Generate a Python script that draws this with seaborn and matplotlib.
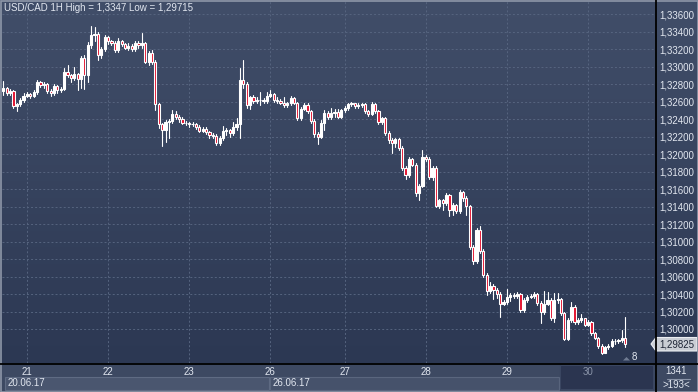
import numpy as np
import pandas as pd
import matplotlib
matplotlib.use("Agg")
import matplotlib.pyplot as plt
import seaborn as sns
from matplotlib.patches import Rectangle, Polygon

# ---------------- data ----------------
first_open = 1.3272
closes = [
    1.3276, 1.3270, 1.3272, 1.3255, 1.3257, 1.3262, 1.3267, 1.3269, 1.3266, 1.3271,
    1.3283, 1.3279, 1.3280, 1.3272, 1.3270, 1.3278, 1.3273, 1.3275, 1.3294, 1.3290,
    1.3287, 1.3292, 1.3286, 1.3310, 1.3290, 1.3325, 1.3336, 1.3338, 1.3313, 1.3320,
    1.3334, 1.3329, 1.3327, 1.3319, 1.3329, 1.3326, 1.3322, 1.3324, 1.3320, 1.3327,
    1.3325, 1.3327, 1.3306, 1.3316, 1.3305, 1.3257, 1.3234, 1.3228, 1.3237, 1.3238,
    1.3246, 1.3242, 1.3240, 1.3236, 1.3236, 1.3234, 1.3234, 1.3231, 1.3227, 1.3229,
    1.3225, 1.3222, 1.3221, 1.3213, 1.3218, 1.3226, 1.3228, 1.3224, 1.3231, 1.3235,
    1.3285, 1.3280, 1.3256, 1.3265, 1.3261, 1.3262, 1.3262, 1.3261, 1.3267, 1.3269,
    1.3262, 1.3261, 1.3259, 1.3256, 1.3258, 1.3264, 1.3259, 1.3241, 1.3252, 1.3256,
    1.3249, 1.3238, 1.3223, 1.3220, 1.3236, 1.3247, 1.3242, 1.3247, 1.3248, 1.3243,
    1.3250, 1.3253, 1.3257, 1.3258, 1.3255, 1.3256, 1.3257, 1.3249, 1.3246, 1.3257,
    1.3249, 1.3237, 1.3241, 1.3224, 1.3216, 1.3213, 1.3217, 1.3207, 1.3184, 1.3176,
    1.3194, 1.3188, 1.3155, 1.3164, 1.3197, 1.3195, 1.3174, 1.3184, 1.3141, 1.3147,
    1.3144, 1.3153, 1.3136, 1.3142, 1.3135, 1.3157, 1.3150, 1.3141, 1.3094, 1.3078,
    1.3113, 1.3089, 1.3062, 1.3043, 1.3049, 1.3045, 1.3040, 1.3029, 1.3031, 1.3037,
    1.3039, 1.3038, 1.3040, 1.3022, 1.3033, 1.3037, 1.3038, 1.3040, 1.3030, 1.3019,
    1.3029, 1.3033, 1.3012, 1.3033, 1.3034, 1.3018, 1.2989, 1.3010, 1.3025, 1.3008,
    1.3010, 1.3012, 1.3005, 1.3008, 1.2995, 1.2990, 1.2981, 1.29725, 1.2979, 1.2981,
    1.2986, 1.2986, 1.2987, 1.2990, 1.29825,
]
highs = [
    1.3284, 1.3277, 1.3274, 1.3273, 1.3259, 1.3264, 1.3270, 1.3271, 1.3270, 1.3273,
    1.3285, 1.3284, 1.3282, 1.3281, 1.3275, 1.3280, 1.3279, 1.3277, 1.3298, 1.3302,
    1.3292, 1.3300, 1.3293, 1.3312, 1.3313, 1.3328, 1.3347, 1.3346, 1.3340, 1.3323,
    1.3336, 1.3335, 1.3331, 1.3329, 1.3333, 1.3331, 1.3327, 1.3327, 1.3326, 1.3329,
    1.3330, 1.3339, 1.3328, 1.3318, 1.3319, 1.3308, 1.3259, 1.3236, 1.3239, 1.3240,
    1.3251, 1.3249, 1.3245, 1.3242, 1.3238, 1.3237, 1.3237, 1.3236, 1.3233, 1.3231,
    1.3231, 1.3227, 1.3224, 1.3223, 1.3221, 1.3232, 1.3230, 1.3229, 1.3237, 1.3241,
    1.3298, 1.3308, 1.3282, 1.3267, 1.3268, 1.3265, 1.3271, 1.3264, 1.3271, 1.3273,
    1.3270, 1.3265, 1.3263, 1.3265, 1.3260, 1.3266, 1.3265, 1.3260, 1.3254, 1.3259,
    1.3258, 1.3251, 1.3240, 1.3225, 1.3239, 1.3250, 1.3249, 1.3253, 1.3252, 1.3252,
    1.3252, 1.3255, 1.3259, 1.3260, 1.3259, 1.3258, 1.3259, 1.3258, 1.3250, 1.3260,
    1.3258, 1.3250, 1.3243, 1.3242, 1.3226, 1.3218, 1.3219, 1.3218, 1.3209, 1.3186,
    1.3197, 1.3196, 1.3190, 1.3166, 1.3205, 1.3199, 1.3197, 1.3186, 1.3186, 1.3149,
    1.3149, 1.3155, 1.3154, 1.3144, 1.3143, 1.3159, 1.3158, 1.3152, 1.3142, 1.3096,
    1.3116, 1.3118, 1.3091, 1.3064, 1.3054, 1.3051, 1.3047, 1.3042, 1.3033, 1.3046,
    1.3041, 1.3041, 1.3042, 1.3041, 1.3035, 1.3039, 1.3040, 1.3042, 1.3041, 1.3032,
    1.3043, 1.3042, 1.3035, 1.3041, 1.3041, 1.3036, 1.3020, 1.3012, 1.3031, 1.3027,
    1.3012, 1.3017, 1.3013, 1.3010, 1.3009, 1.2997, 1.2991, 1.2983, 1.2981, 1.2983,
    1.2988, 1.2988, 1.2989, 1.2999, 1.3014,
]
lows = [
    1.3268, 1.3268, 1.3268, 1.3253, 1.3249, 1.3255, 1.3260, 1.3265, 1.3264, 1.3265,
    1.3269, 1.3277, 1.3276, 1.3270, 1.3266, 1.3268, 1.3270, 1.3271, 1.3273, 1.3288,
    1.3283, 1.3285, 1.3273, 1.3276, 1.3274, 1.3283, 1.3322, 1.3330, 1.3308, 1.3310,
    1.3318, 1.3326, 1.3325, 1.3317, 1.3317, 1.3324, 1.3320, 1.3319, 1.3318, 1.3318,
    1.3322, 1.3322, 1.3304, 1.3302, 1.3303, 1.3250, 1.3230, 1.3209, 1.3214, 1.3218,
    1.3236, 1.3240, 1.3237, 1.3234, 1.3233, 1.3231, 1.3232, 1.3229, 1.3225, 1.3225,
    1.3223, 1.3219, 1.3219, 1.3210, 1.3211, 1.3216, 1.3222, 1.3220, 1.3222, 1.3228,
    1.3218, 1.3276, 1.3253, 1.3252, 1.3258, 1.3259, 1.3256, 1.3258, 1.3259, 1.3265,
    1.3260, 1.3258, 1.3257, 1.3254, 1.3254, 1.3256, 1.3257, 1.3239, 1.3239, 1.3250,
    1.3247, 1.3236, 1.3220, 1.3212, 1.3218, 1.3228, 1.3240, 1.3240, 1.3243, 1.3241,
    1.3241, 1.3248, 1.3251, 1.3255, 1.3253, 1.3253, 1.3254, 1.3247, 1.3244, 1.3245,
    1.3247, 1.3235, 1.3234, 1.3222, 1.3213, 1.3201, 1.3208, 1.3205, 1.3182, 1.3172,
    1.3174, 1.3186, 1.3152, 1.3148, 1.3162, 1.3192, 1.3172, 1.3171, 1.3139, 1.3138,
    1.3136, 1.3142, 1.3129, 1.3130, 1.3133, 1.3133, 1.3146, 1.3130, 1.3092, 1.3074,
    1.3076, 1.3087, 1.3060, 1.3039, 1.3041, 1.3034, 1.3036, 1.3014, 1.3027, 1.3029,
    1.3032, 1.3036, 1.3036, 1.3020, 1.3020, 1.3031, 1.3035, 1.3036, 1.3028, 1.3007,
    1.3017, 1.3027, 1.3010, 1.3008, 1.3030, 1.3016, 1.2987, 1.2987, 1.3008, 1.3006,
    1.3006, 1.3008, 1.3003, 1.3003, 1.2993, 1.2988, 1.2978, 1.29715, 1.2972, 1.2977,
    1.2979, 1.2983, 1.2984, 1.2985, 1.2979,
]
opens = [first_open] + closes[:-1]

day_positions = [7, 31, 55, 79, 101, 125, 149, 173]
day_labels = ["21", "22", "23", "26", "27", "28", "29", "30"]
price_ticks = [1.300, 1.302, 1.304, 1.306, 1.308, 1.310, 1.312, 1.314, 1.316, 1.318,
               1.320, 1.322, 1.324, 1.326, 1.328, 1.330, 1.332, 1.334, 1.336]
title_text = "USD/CAD 1H High = 1,3347 Low = 1,29715"
last_price_text = "1,29825"
week_labels = ["20.06.17", "26.06.17"]
bars_total, bars_visible = "1341", ">193<"
minutes_left = "8"

# ---------------- styling ----------------
sns.set_theme(style="dark")
plt.rcParams["font.family"] = ["Liberation Sans", "DejaVu Sans"]
FS = 7.0
TXT = "#e2e7f0"

W, H = 698, 392
fig = plt.figure(figsize=(W / 100, H / 100), dpi=100)
fig.patch.set_facecolor("#3c4861")

# background layer in pixel coordinates
bg = fig.add_axes([0, 0, 1, 1], zorder=0)
bg.set_xlim(0, W); bg.set_ylim(H, 0); bg.axis("off")
grad = np.linspace(0, 1, 256).reshape(-1, 1)
top_c = np.array([0x41, 0x4e, 0x69]) / 255
bot_c = np.array([0x2c, 0x38, 0x53]) / 255
img = top_c[None, None, :] * (1 - grad[:, :, None]) + bot_c[None, None, :] * grad[:, :, None]
bg.imshow(img, extent=(0, W, 363, 0), aspect="auto", interpolation="bilinear")
bg.add_patch(Rectangle((0, 363), W, H - 363, facecolor="#3d4962", edgecolor="none"))
bg.add_patch(Rectangle((5, 377), 264, 13, facecolor="#4a566f", edgecolor="#5f6b83", lw=0.8))
bg.add_patch(Rectangle((270, 377), 289, 13, facecolor="#46526b", edgecolor="#5a667e", lw=0.8))
bg.add_patch(Rectangle((560, 365), 93, 24, facecolor="#2b3550", edgecolor="#3a4661", lw=0.8))

# main chart axes
ax = fig.add_axes([2 / W, 29 / H, 653 / W, 362 / H], zorder=2)
ax.set_facecolor("none")
idx = np.arange(len(closes))

wick_df = pd.DataFrame({
    "cid": np.repeat(idx, 2),
    "i": np.repeat(idx, 2),
    "price": np.column_stack([lows, highs]).ravel(),
})
sns.lineplot(data=wick_df, x="i", y="price", units="cid", estimator=None,
             color="white", linewidth=0.8, ax=ax, legend=False, zorder=3)

o = np.array(opens); c = np.array(closes)
body_bottom = np.minimum(o, c)
body_height = np.abs(c - o)
body_color = np.where(c < o, "#e3122f", "#ffffff")
ax.bar(idx, body_height, bottom=body_bottom, width=0.64, color=body_color,
       edgecolor="white", linewidth=0.78, zorder=4)

ax.set_xlim(-0.38, 192.8)
ax.set_ylim(1.296109, 1.337522)
ax.set_xlabel(""); ax.set_ylabel("")
ax.yaxis.tick_right()
ax.set_yticks(price_ticks)
ax.set_yticklabels([f"{v:.5f}".replace(".", ",") for v in price_ticks])
ax.set_xticks(day_positions)
ax.set_xticklabels(day_labels)
ax.tick_params(axis="y", length=0, pad=3.2, labelsize=FS, labelcolor=TXT)
ax.tick_params(axis="x", length=0, pad=2.6, labelsize=FS, labelcolor=TXT)
ax.get_xticklabels()[-1].set_color("#8b95aa")
ax.grid(True, color="#56647f", linestyle=(0, (2, 2.2)), linewidth=0.7)
ax.set_axisbelow(True)
for s in ax.spines.values():
    s.set_visible(False)

# overlay layer in pixel coordinates
ov = fig.add_axes([0, 0, 1, 1], zorder=5)
ov.set_xlim(0, W); ov.set_ylim(H, 0); ov.axis("off"); ov.set_facecolor("none")
ov.plot([0, W], [363.5, 363.5], color="black", lw=1.3)
ov.plot([655.5, 655.5], [0, H], color="black", lw=1.3)
ov.text(4, 8, title_text, ha="left", va="center", fontsize=FS, color=TXT)
ov.add_patch(Polygon([(651, 344), (656, 337.5), (697, 337.5), (697, 351), (656, 351)],
                     closed=True, facecolor="#c9cdd4", edgecolor="#eceef2", lw=0.8))
ov.text(677, 344.5, last_price_text, ha="center", va="center", fontsize=FS, color="#1d2435")
ov.add_patch(Polygon([(623, 360.5), (626.5, 357), (630, 360.5)], closed=True,
                     facecolor="#6f7b92", edgecolor="none"))
ov.text(634, 357.5, minutes_left, ha="center", va="center", fontsize=FS, color=TXT)
ov.text(8, 383.5, week_labels[0], ha="left", va="center", fontsize=FS, color=TXT)
ov.text(273, 383.5, week_labels[1], ha="left", va="center", fontsize=FS, color=TXT)
ov.text(676.5, 371.5, bars_total, ha="center", va="center", fontsize=FS, color=TXT)
ov.plot([667, 690], [378.5, 378.5], color="#8a94a8", lw=0.8)
ov.text(676.5, 384.5, bars_visible, ha="center", va="center", fontsize=FS, color=TXT)
ov.add_patch(Rectangle((0.5, 0.5), W - 1, H - 1, facecolor="none", edgecolor="#8e97a8", lw=1.2))

fig.savefig("out.png", dpi=100, facecolor=fig.get_facecolor())
